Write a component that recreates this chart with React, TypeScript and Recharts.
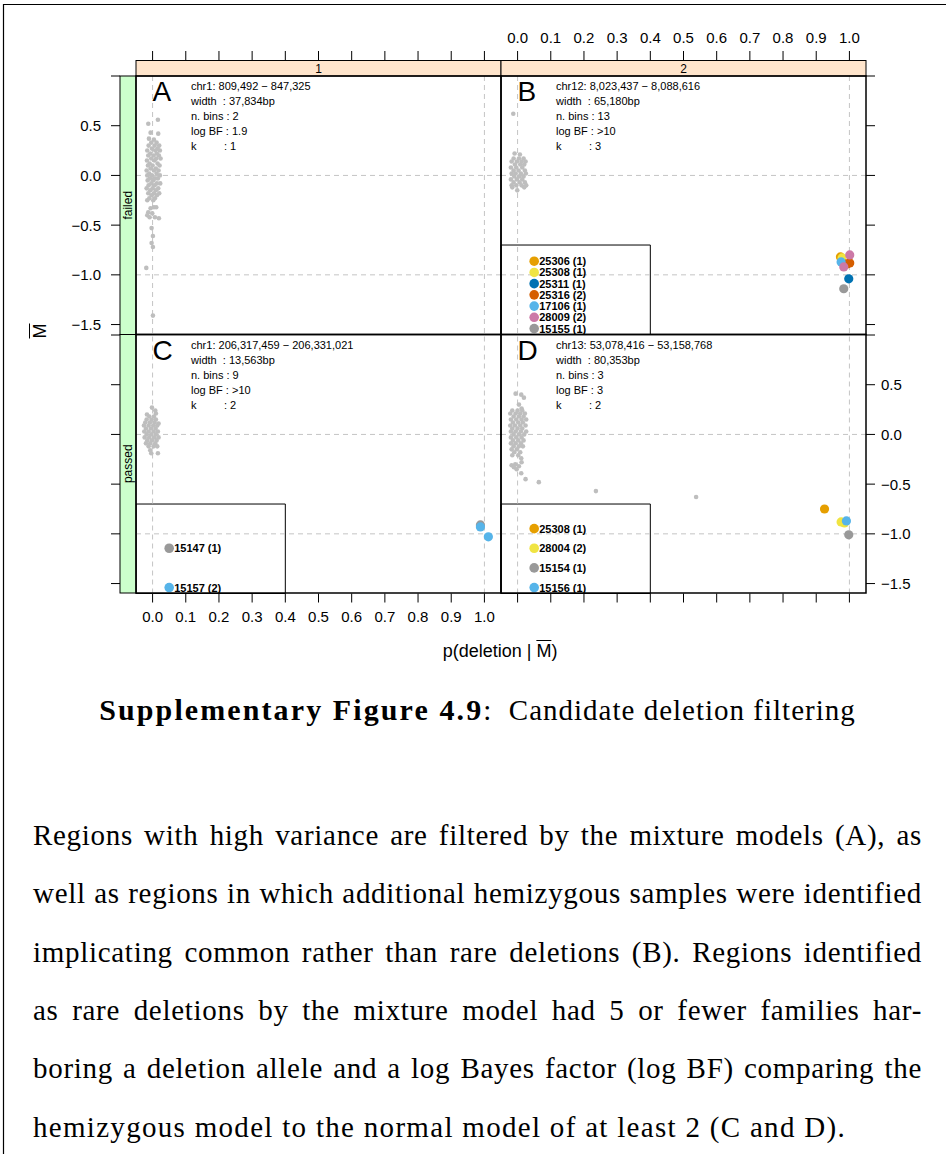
import React from "react";
import { ScatterChart, Scatter, XAxis, YAxis, ReferenceLine, ReferenceArea } from "recharts";

type Pair = [number, number];
type Hit = { id: string; x: number; y: number };

const SANS = "'Liberation Sans', Arial, Helvetica, sans-serif";
const SERIF = "'Liberation Serif', 'Times New Roman', serif";

// ---- axes ----
const X_TICKS = [0, 0.1, 0.2, 0.3, 0.4, 0.5, 0.6, 0.7, 0.8, 0.9, 1.0];
const Y_TICKS = [-1.5, -1.0, -0.5, 0, 0.5, 1.0];
const X_DOMAIN: [number, number] = [-0.05, 1.05];
const Y_DOMAIN: [number, number] = [-1.6, 1.0];

// ---- background samples (grey) per region ----
const greyA: Pair[] = [
  [-0.013, 0.52], [0.016, 0.56], [-0.006, 0.43], [0.017, 0.42], [-0.011, 0.37], [0.004, 0.36],
  [0.012, 0.33], [-0.004, 0.33], [-0.012, 0.30], [0.006, 0.30], [0.020, 0.30],
  [-0.002, 0.27], [0.015, 0.27], [-0.016, 0.25], [0.008, 0.25], [0.022, 0.25],
  [-0.007, 0.22], [0.013, 0.22], [-0.013, 0.20], [0.003, 0.20], [0.019, 0.20],
  [-0.004, 0.17], [0.011, 0.17], [0.024, 0.17], [-0.017, 0.15], [0.006, 0.15],
  [-0.009, 0.12], [0.015, 0.12], [0.000, 0.10], [0.021, 0.10], [-0.014, 0.10],
  [-0.006, 0.07], [0.010, 0.07], [-0.018, 0.05], [0.004, 0.05], [0.018, 0.05],
  [-0.010, 0.02], [0.012, 0.02], [-0.002, 0.00], [0.022, 0.00], [-0.016, 0.00],
  [-0.008, -0.03], [0.007, -0.03], [0.016, -0.03], [-0.015, -0.05], [0.002, -0.05],
  [-0.004, -0.08], [0.013, -0.08], [0.023, -0.08], [-0.012, -0.10], [0.006, -0.10],
  [-0.018, -0.13], [0.000, -0.13], [0.017, -0.13], [-0.007, -0.15], [0.010, -0.15],
  [-0.013, -0.18], [0.004, -0.18], [0.020, -0.18], [-0.003, -0.20], [0.013, -0.20],
  [-0.010, -0.23], [0.007, -0.23], [-0.016, -0.25], [0.002, -0.25],
  [-0.006, -0.33], [0.004, -0.32], [0.011, -0.32], [-0.013, -0.37], [-0.001, -0.38],
  [-0.016, -0.40], [-0.009, -0.42], [0.007, -0.42], [0.019, -0.43],
  [-0.003, -0.53], [0.001, -0.61], [-0.003, -0.68], [0.001, -0.72], [-0.019, -0.93], [0.001, -1.41],
];

const greyB: Pair[] = [
  [-0.013, 0.62], [-0.009, 0.22], [0.007, 0.21],
  [-0.012, 0.17], [0.004, 0.17], [0.018, 0.17],
  [-0.018, 0.14], [-0.002, 0.14], [0.012, 0.14], [0.024, 0.14],
  [-0.008, 0.11], [0.008, 0.11], [0.020, 0.11],
  [-0.020, 0.08], [-0.004, 0.08], [0.014, 0.08],
  [-0.012, 0.05], [0.003, 0.05], [0.022, 0.05],
  [-0.018, 0.02], [-0.006, 0.02], [0.010, 0.02], [0.025, 0.02],
  [-0.010, -0.01], [0.005, -0.01], [0.018, -0.01],
  [-0.020, -0.04], [-0.002, -0.04], [0.014, -0.04],
  [-0.012, -0.07], [0.006, -0.07], [0.022, -0.07],
  [-0.018, -0.10], [-0.004, -0.10], [0.012, -0.10], [0.026, -0.10],
  [-0.016, -0.12], [-0.001, -0.15], [0.020, -0.12],
];

const greyC: Pair[] = [
  [-0.002, 0.27], [-0.017, 0.20], [0.010, 0.21], [0.008, 0.24], [0.018, 0.11],
  [-0.004, -0.19], [0.016, -0.19], [-0.007, -0.16],
  [-0.010, 0.18], [0.004, 0.18], [-0.018, 0.15], [-0.003, 0.15], [0.010, 0.15],
  [-0.022, 0.12], [-0.008, 0.12], [0.006, 0.12],
  [-0.026, 0.09], [-0.012, 0.09], [0.002, 0.09], [0.014, 0.09],
  [-0.020, 0.06], [-0.005, 0.06], [0.009, 0.06],
  [-0.025, 0.03], [-0.012, 0.03], [0.003, 0.03], [0.016, 0.03],
  [-0.018, 0.00], [-0.004, 0.00], [0.010, 0.00],
  [-0.024, -0.03], [-0.010, -0.03], [0.005, -0.03], [0.018, -0.03],
  [-0.016, -0.06], [-0.002, -0.06], [0.012, -0.06],
  [-0.020, -0.09], [-0.007, -0.09], [0.008, -0.09],
  [-0.012, -0.12], [0.003, -0.12], [0.014, -0.12],
];

const greyD: Pair[] = [
  [-0.006, 0.41], [0.011, 0.40], [0.019, 0.37], [0.004, 0.30], [0.012, 0.26],
  [-0.016, 0.24], [0.000, 0.24], [0.014, 0.24],
  [-0.022, 0.21], [-0.006, 0.21], [0.008, 0.21], [0.022, 0.21],
  [-0.012, 0.18], [0.004, 0.18], [0.018, 0.18],
  [-0.020, 0.15], [-0.004, 0.15], [0.012, 0.15], [0.026, 0.15],
  [-0.014, 0.12], [0.002, 0.12], [0.016, 0.12],
  [-0.022, 0.09], [-0.008, 0.09], [0.008, 0.09], [0.024, 0.09],
  [-0.016, 0.06], [0.000, 0.06], [0.014, 0.06],
  [-0.020, 0.03], [-0.006, 0.03], [0.010, 0.03], [0.026, 0.03],
  [-0.012, 0.00], [0.004, 0.00], [0.020, 0.00],
  [-0.020, -0.03], [-0.004, -0.03], [0.012, -0.03],
  [-0.014, -0.06], [0.002, -0.06], [0.018, -0.06],
  [-0.020, -0.09], [-0.006, -0.09], [0.010, -0.09],
  [-0.012, -0.12], [0.004, -0.12], [0.016, -0.12],
  [-0.018, -0.15], [-0.002, -0.15], [-0.010, -0.18], [0.008, -0.18],
  [-0.016, -0.21], [0.002, -0.21], [0.011, -0.24],
  [-0.007, -0.30], [-0.018, -0.31], [0.012, -0.28], [0.004, -0.32], [-0.011, -0.33],
  [-0.003, -0.35], [0.011, -0.39], [0.024, -0.45], [0.064, -0.48], [0.236, -0.57], [0.538, -0.63],
];

// ---- flagged samples: ids, number of carriers, coloured points ----
const samplesB = ["25306", "25308", "25311", "25316", "17106", "28009", "15155"];
const countsB = [1, 1, 1, 2, 1, 2, 1];
const hitsB: Hit[] = [
  { id: "25306", x: 0.973, y: -0.82 },
  { id: "25308", x: 0.978, y: -0.83 },
  { id: "25311", x: 0.998, y: -1.04 },
  { id: "25316", x: 1.001, y: -0.88 },
  { id: "25316", x: 0.993, y: -0.89 },
  { id: "17106", x: 0.975, y: -0.87 },
  { id: "28009", x: 1.001, y: -0.8 },
  { id: "28009", x: 0.983, y: -0.92 },
  { id: "15155", x: 0.983, y: -1.14 },
];

const samplesC = ["15147", "15157"];
const countsC = [1, 2];
const hitsC: Hit[] = [
  { id: "15147", x: 0.988, y: -0.91 },
  { id: "15157", x: 0.988, y: -0.93 },
  { id: "15157", x: 1.012, y: -1.03 },
];

const samplesD = ["25308", "28004", "15154", "15156"];
const countsD = [1, 2, 1, 1];
const hitsD: Hit[] = [
  { id: "25308", x: 0.925, y: -0.75 },
  { id: "28004", x: 0.975, y: -0.88 },
  { id: "28004", x: 0.985, y: -0.89 },
  { id: "15154", x: 0.998, y: -1.01 },
  { id: "15156", x: 0.991, y: -0.87 },
];

const ORANGE = "#E69F00";
const YELLOW = "#F0E442";
const BLUE = "#0072B2";
const VERMILLION = "#D55E00";
const SKY = "#56B4E9";
const PINK = "#CC79A7";
const GREY_HIT = "#999999";
const GREY_BG = "#BEBEBE";

const coloursB = [ORANGE, YELLOW, BLUE, VERMILLION, SKY, PINK, GREY_HIT];
const coloursC = [GREY_HIT, SKY];
const coloursD = [ORANGE, YELLOW, GREY_HIT, SKY];

// ---- layout ----
const PW = 365;
const PH = 258.5;
const PAD = 80;
const COL_X = [136, 501];
const ROW_Y = [76, 334.5];
const TICK = 9;
const STRIP = 16;

const fmt = (v: number) => v.toFixed(1).replace("-", "\u2212");

const tickText = { fontFamily: SANS, fontSize: 15, fill: "#000" };

function xTick(side: "top" | "bottom", gap: number, labels: boolean) {
  return (p: any) => {
    const dir = side === "top" ? -1 : 1;
    const y0 = p.y + dir * gap;
    return (
      <g>
        <line x1={p.x} x2={p.x} y1={y0} y2={y0 + dir * TICK} stroke="#000" strokeWidth={1} />
        {labels && (
          <text x={p.x} y={y0 + dir * 23} textAnchor="middle" dominantBaseline="central" {...tickText}>
            {fmt(p.payload.value)}
          </text>
        )}
      </g>
    );
  };
}

function yTick(side: "left" | "right", gap: number, labels: boolean) {
  return (p: any) => {
    const dir = side === "left" ? -1 : 1;
    const x0 = p.x + dir * gap;
    const v = p.payload.value;
    return (
      <g>
        <line x1={x0} x2={x0 + dir * TICK} y1={p.y} y2={p.y} stroke="#000" strokeWidth={1} />
        {labels && v !== 1 && (
          <text
            x={side === "left" ? x0 - 19 : x0 + 15}
            y={p.y}
            textAnchor={side === "left" ? "end" : "start"}
            dominantBaseline="central"
            {...tickText}
          >
            {fmt(v)}
          </text>
        )}
      </g>
    );
  };
}

type PanelProps = {
  col: number;
  row: number;
  grey: Pair[];
  samples: string[];
  counts: number[];
  colours: string[];
  hits: Hit[];
  xSide: "top" | "bottom";
  xLabels: boolean;
  ySide: "left" | "right";
  yLabels: boolean;
};

function Panel({ col, row, grey, samples, counts, colours, hits, xSide, xLabels, ySide, yLabels }: PanelProps) {
  const greyPts = grey.map(([x, y]) => ({ x, y }));
  const n = samples.length;
  // key rows stacked up from the bottom of the inset box
  const key = samples.map((s, i) => ({
    x: 0.05,
    y: -1.54 + ((n - 1 - i) * 0.79) / n,
    label: `${s} (${counts[i]})`,
    i,
  }));
  const margin = {
    top: xSide === "top" ? 0 : PAD,
    bottom: xSide === "bottom" ? 0 : PAD,
    left: ySide === "left" ? 0 : PAD,
    right: ySide === "right" ? 0 : PAD,
  };
  return (
    <div style={{ position: "absolute", left: COL_X[col] - PAD, top: ROW_Y[row] - PAD }}>
      <ScatterChart width={PW + 2 * PAD} height={PH + 2 * PAD} margin={margin}>
        <XAxis
          type="number"
          dataKey="x"
          domain={X_DOMAIN}
          ticks={X_TICKS}
          interval={0}
          allowDataOverflow
          orientation={xSide}
          height={PAD}
          axisLine={false}
          tickLine={false}
          tickSize={0}
          tickMargin={0}
          tick={xTick(xSide, xSide === "top" ? STRIP : 0, xLabels)}
        />
        <YAxis
          type="number"
          dataKey="y"
          domain={Y_DOMAIN}
          ticks={Y_TICKS}
          interval={0}
          allowDataOverflow
          orientation={ySide}
          width={PAD}
          axisLine={false}
          tickLine={false}
          tickSize={0}
          tickMargin={0}
          tick={yTick(ySide, ySide === "left" ? STRIP : 0, yLabels)}
        />
        <ReferenceLine x={0} stroke="#C4C4C4" strokeDasharray="5 4" />
        <ReferenceLine x={1} stroke="#C4C4C4" strokeDasharray="5 4" />
        <ReferenceLine y={0} stroke="#C4C4C4" strokeDasharray="5 4" />
        <ReferenceLine y={-1} stroke="#C4C4C4" strokeDasharray="5 4" />
        {n > 0 && (
          <ReferenceArea x1={X_DOMAIN[0]} x2={0.4} y1={Y_DOMAIN[0]} y2={-0.7} fill="none" stroke="#000" strokeWidth={1} />
        )}
        <Scatter
          data={greyPts}
          isAnimationActive={false}
          shape={(p: any) => <circle cx={p.cx} cy={p.cy} r={2.3} fill={GREY_BG} />}
        />
        {samples.map((s, i) => (
          <Scatter
            key={s}
            data={hits.filter((h) => h.id === s)}
            isAnimationActive={false}
            shape={(p: any) => <circle cx={p.cx} cy={p.cy} r={4.6} fill={colours[i]} />}
          />
        ))}
        {n > 0 && (
          <Scatter
            data={key}
            isAnimationActive={false}
            shape={(p: any) => (
              <g>
                <circle cx={p.cx} cy={p.cy} r={4.8} fill={colours[p.payload.i]} />
                <text
                  x={p.cx + 5}
                  y={p.cy}
                  dominantBaseline="central"
                  fontFamily={SANS}
                  fontSize={11}
                  fontWeight="bold"
                  fill="#000"
                >
                  {p.payload.label}
                </text>
              </g>
            )}
          />
        )}
      </ScatterChart>
    </div>
  );
}

const regionInfo = [
  { letter: "A", lines: ["chr1: 809,492 \u2212 847,325", "width  : 37,834bp", "n. bins : 2", "log BF : 1.9", "k         : 1"] },
  { letter: "B", lines: ["chr12: 8,023,437 \u2212 8,088,616", "width  : 65,180bp", "n. bins : 13", "log BF : >10", "k         : 3"] },
  { letter: "C", lines: ["chr1: 206,317,459 \u2212 206,331,021", "width  : 13,563bp", "n. bins : 9", "log BF : >10", "k         : 2"] },
  { letter: "D", lines: ["chr13: 53,078,416 \u2212 53,158,768", "width  : 80,353bp", "n. bins : 3", "log BF : 3", "k         : 2"] },
];

const paragraph = [
  "Regions with high variance are filtered by the mixture models (A), as",
  "well as regions in which additional hemizygous samples were identified",
  "implicating common rather than rare deletions (B). Regions identified",
  "as rare deletions by the mixture model had 5 or fewer families har-",
  "boring a deletion allele and a log Bayes factor (log BF) comparing the",
  "hemizygous model to the normal model of at least 2 (C and D).",
];

function Frame() {
  const cells = [
    [0, 0],
    [1, 0],
    [0, 1],
    [1, 1],
  ];
  return (
    <svg
      width={946}
      height={1154}
      style={{ position: "absolute", left: 0, top: 0, pointerEvents: "none" }}
    >
      {/* page rule */}
      <line x1={3} y1={4.5} x2={946} y2={4.5} stroke="#000" strokeWidth={1.2} />
      <line x1={3.5} y1={4} x2={3.5} y2={1154} stroke="#000" strokeWidth={1.2} />
      {/* strips */}
      {[0, 1].map((c) => (
        <g key={`s${c}`}>
          <rect x={COL_X[c]} y={ROW_Y[0] - 15.5} width={PW} height={15.5} fill="#FFE5CC" stroke="#000" strokeWidth={1} />
          <text x={COL_X[c] + PW / 2} y={ROW_Y[0] - 7.5} textAnchor="middle" dominantBaseline="central" fontFamily={SANS} fontSize={12}>
            {c + 1}
          </text>
        </g>
      ))}
      {[0, 1].map((r) => (
        <g key={`l${r}`}>
          <rect x={COL_X[0] - STRIP} y={ROW_Y[r]} width={STRIP} height={PH} fill="#CCFFCC" stroke="#000" strokeWidth={1} />
          <text
            transform={`translate(${COL_X[0] - STRIP / 2} ${ROW_Y[r] + PH / 2}) rotate(-90)`}
            textAnchor="middle"
            dominantBaseline="central"
            fontFamily={SANS}
            fontSize={12}
          >
            {r === 0 ? "failed" : "passed"}
          </text>
        </g>
      ))}
      {/* panel boxes and annotations */}
      {cells.map(([c, r], k) => (
        <g key={`p${k}`}>
          <rect x={COL_X[c]} y={ROW_Y[r]} width={PW} height={PH} fill="none" stroke="#000" strokeWidth={1.5} />
          <text x={COL_X[c] + 16.5} y={ROW_Y[r] + 25} fontFamily={SANS} fontSize={28}>
            {regionInfo[k].letter}
          </text>
          {regionInfo[k].lines.map((t, j) => (
            <text
              key={j}
              x={COL_X[c] + 55}
              y={ROW_Y[r] + 10.3 + 15 * j}
              dominantBaseline="central"
              fontFamily={SANS}
              fontSize={11}
              style={{ whiteSpace: "pre" }}
            >
              {t}
            </text>
          ))}
        </g>
      ))}
    </svg>
  );
}

export default function App() {
  const last = paragraph.length - 1;
  return (
    <div style={{ position: "absolute", left: 0, top: 0, width: 946, height: 1154, background: "#fff", overflow: "hidden" }}>
      <Panel col={0} row={0} grey={greyA} samples={[]} counts={[]} colours={[]} hits={[]} xSide="top" xLabels={false} ySide="left" yLabels />
      <Panel col={1} row={0} grey={greyB} samples={samplesB} counts={countsB} colours={coloursB} hits={hitsB} xSide="top" xLabels ySide="right" yLabels={false} />
      <Panel col={0} row={1} grey={greyC} samples={samplesC} counts={countsC} colours={coloursC} hits={hitsC} xSide="bottom" xLabels ySide="left" yLabels={false} />
      <Panel col={1} row={1} grey={greyD} samples={samplesD} counts={countsD} colours={coloursD} hits={hitsD} xSide="bottom" xLabels={false} ySide="right" yLabels />
      <Frame />

      {/* axis titles */}
      <div style={{ position: "absolute", left: 300, width: 400, top: 640, textAlign: "center", fontFamily: SANS, fontSize: 18, lineHeight: "22px" }}>
        p(deletion | <span style={{ textDecoration: "overline" }}>M</span>)
      </div>
      <div
        style={{
          position: "absolute",
          left: 40,
          top: 331,
          transform: "translate(-50%, -50%) rotate(-90deg)",
          fontFamily: SANS,
          fontSize: 18,
          lineHeight: "22px",
        }}
      >
        <span style={{ textDecoration: "overline" }}>M</span>
      </div>

      {/* caption */}
      <div style={{ position: "absolute", left: 33, width: 889, top: 694, textAlign: "center", fontFamily: SERIF, fontSize: 29, lineHeight: "32px", whiteSpace: "pre" }}>
        <span style={{ fontWeight: "bold", fontSize: 30, letterSpacing: 2.1 }}>Supplementary Figure 4.9</span>
        <span style={{ letterSpacing: 1 }}>:  Candidate deletion filtering</span>
      </div>

      {/* body text */}
      {paragraph.map((line, i) => (
        <div
          key={i}
          style={{
            position: "absolute",
            left: 33,
            width: 889,
            top: 845 + i * 58.4 - 24.3,
            fontFamily: SERIF,
            fontSize: 29,
            lineHeight: "29px",
            letterSpacing: i < last ? 0.7 : 1.3,
            whiteSpace: "nowrap",
            textAlign: i < last ? "justify" : "left",
            textAlignLast: i < last ? "justify" : "left",
          }}
        >
          {line}
        </div>
      ))}
    </div>
  );
}
